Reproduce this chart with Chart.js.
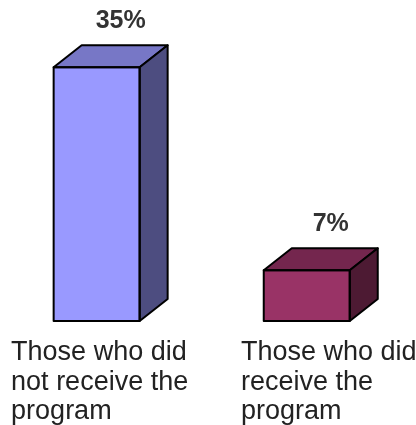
<!DOCTYPE html>
<html>
<head>
<meta charset="utf-8">
<script src="https://cdn.jsdelivr.net/npm/chart.js@4.4.1/dist/chart.umd.min.js"></script>
<style>
  html, body { margin: 0; padding: 0; background: #fff; }
  #wrap { width: 416px; height: 425px; }
</style>
</head>
<body>
<div id="wrap"><canvas id="programChart" width="416" height="425"></canvas></div>
<script>
const categories = [
    ['Those who did', 'not receive the', 'program'],
    ['Those who did', 'receive the', 'program']
];
const values = [35, 7];
const valueLabels = ['35%', '7%'];

const frontColors = ['#9999FF', '#993366'];
const topColors = ['#7777C6', '#74264E'];
const sideColors = ['#4D4D80', '#4D1A33'];

const DEPTH_X = 28;
const DEPTH_Y = 22;
const labelNudge = [3, 22];

// draws the top and side faces of each bar, plus the text
const boxPlugin = {
    id: 'boxes',
    afterDatasetsDraw(chart) {
        const ctx = chart.ctx;
        const meta = chart.getDatasetMeta(0);
        ctx.save();
        ctx.lineWidth = 2;
        ctx.lineJoin = 'round';
        ctx.strokeStyle = '#000';
        meta.data.forEach((bar, i) => {
            const left = bar.x - bar.width / 2;
            const right = bar.x + bar.width / 2;
            const top = bar.y;
            const base = bar.base;

            ctx.beginPath();
            ctx.moveTo(left, top);
            ctx.lineTo(left + DEPTH_X, top - DEPTH_Y);
            ctx.lineTo(right + DEPTH_X, top - DEPTH_Y);
            ctx.lineTo(right, top);
            ctx.closePath();
            ctx.fillStyle = topColors[i];
            ctx.fill();
            ctx.stroke();

            ctx.beginPath();
            ctx.moveTo(right, top);
            ctx.lineTo(right + DEPTH_X, top - DEPTH_Y);
            ctx.lineTo(right + DEPTH_X, base - DEPTH_Y);
            ctx.lineTo(right, base);
            ctx.closePath();
            ctx.fillStyle = sideColors[i];
            ctx.fill();
            ctx.stroke();

            ctx.strokeRect(left, top, right - left, base - top);

            // value label
            ctx.fillStyle = '#333';
            ctx.font = 'bold 25px "Liberation Sans", Arial, sans-serif';
            ctx.textAlign = 'center';
            ctx.textBaseline = 'alphabetic';
            ctx.fillText(valueLabels[i], bar.x + 24, top - DEPTH_Y - 17);

            // category label, left aligned block
            ctx.fillStyle = '#222';
            ctx.font = '27px "Liberation Sans", Arial, sans-serif';
            ctx.textAlign = 'left';
            const lines = categories[i];
            const maxW = Math.max(...lines.map(l => ctx.measureText(l).width));
            const x0 = bar.x - maxW / 2 + labelNudge[i];
            lines.forEach((line, k) => {
                ctx.fillText(line, x0, 360 + k * 29.5);
            });
        });
        ctx.restore();
    }
};

new Chart(document.getElementById('programChart'), {
    type: 'bar',
    data: {
        datasets: [{
            data: values.map((v, i) => ({ x: i, y: v })),
            backgroundColor: frontColors,
            borderColor: '#000',
            borderWidth: 0,
            barThickness: 86
        }]
    },
    options: {
        responsive: false,
        animation: false,
        layout: { padding: { top: 31, bottom: 104, left: 0, right: 0 } },
        plugins: { legend: { display: false }, tooltip: { enabled: false } },
        scales: {
            x: { type: 'linear', offset: false, min: -0.46, max: 1.52, display: false },
            y: { min: 0, max: 40, display: false }
        }
    },
    plugins: [boxPlugin]
});
</script>
</body>
</html>
